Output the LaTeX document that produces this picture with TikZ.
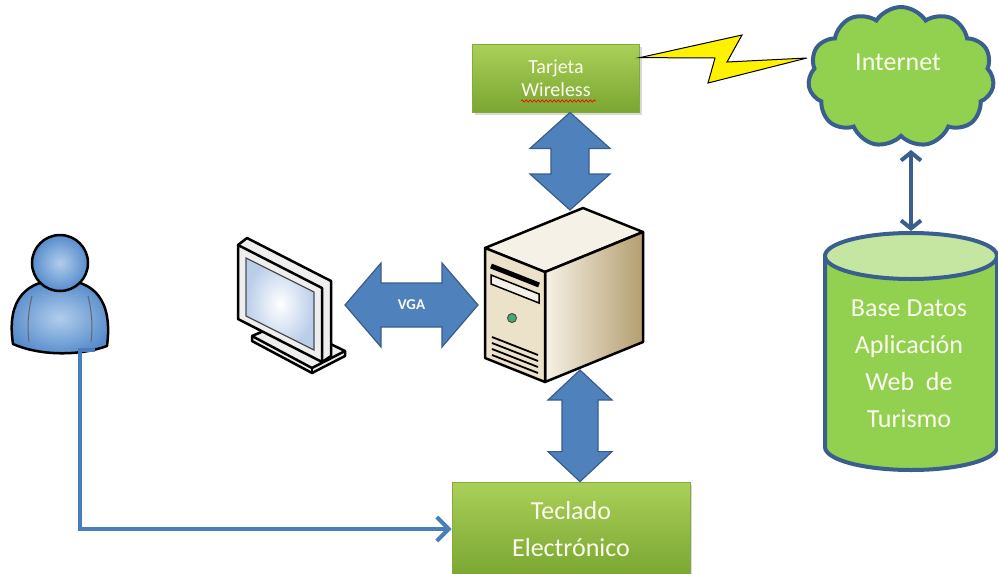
\documentclass[tikz,border=0pt]{standalone}
\usepackage{fontspec}
\setmainfont{Carlito}
\usetikzlibrary{shapes,shapes.symbols,arrows.meta,positioning,calc,shadows,decorations.pathmorphing}

\definecolor{boxtop}{RGB}{170,208,88}
\definecolor{boxbottom}{RGB}{122,166,50}
\definecolor{boxedge}{RGB}{130,170,60}
\definecolor{blockfill}{RGB}{79,129,189}
\definecolor{blockedge}{RGB}{56,93,138}
\definecolor{netgreen}{RGB}{146,208,80}
\definecolor{dbtop}{RGB}{196,230,160}
\definecolor{netedge}{RGB}{58,95,143}
\definecolor{userblue}{RGB}{74,126,187}
\definecolor{userin}{RGB}{178,205,236}
\definecolor{userout}{RGB}{86,140,204}
\definecolor{towerfront}{RGB}{236,226,202}
\definecolor{towertop}{RGB}{246,241,230}
\definecolor{towerside}{RGB}{180,158,112}
\definecolor{ledgreen}{RGB}{70,170,110}
\definecolor{monlight}{RGB}{238,238,238}
\definecolor{screenblue}{RGB}{186,206,234}
\definecolor{cream}{RGB}{252,252,238}

\tikzset{
  greenbox/.style={rectangle, draw=boxedge, line width=0.8pt, top color=boxtop, bottom color=boxbottom,
    text=cream, align=center, inner sep=2pt, drop shadow={opacity=0.3, shadow xshift=2pt, shadow yshift=-3pt}},
  blockarrow/.style={fill=blockfill, draw=blockedge, line width=1.2pt, line join=miter},
  netlink/.style={netedge, line width=4pt, {Straight Barb[length=8pt,width=20pt]}-{Straight Barb[length=8pt,width=20pt]}},
  userlink/.style={userblue, line width=4pt, -{Straight Barb[length=12pt,width=24pt]}},
  outline/.style={draw=black, line width=2.5pt, line join=round},
  whitetext/.style={text=cream, align=center}
}

\begin{document}
\begin{tikzpicture}[x=1pt, y=-1pt]
\useasboundingbox (0,0) rectangle (998,573);

% Boxes
\node[greenbox, font=\fontsize{20}{23}\selectfont, minimum width=167pt, minimum height=68pt] (tarjeta) at (556,78) {Tarjeta\\Wireless};
\draw[red, line width=0.7pt, decorate, decoration={snake, amplitude=1.2pt, segment length=4pt}]
  ($(tarjeta.center)+(-35,23)$) -- ++(75,0);
\node[greenbox, font=\fontsize{26}{37}\selectfont, minimum width=238pt, minimum height=94pt] (teclado) at (571,529) {Teclado\\Electrónico};

% Internet cloud
\node[cloud, cloud puffs=11, cloud puff arc=115, aspect=1.3, draw=netedge, line width=4pt, fill=netgreen,
  minimum width=186pt, minimum height=140pt] (internet) at (901,77) {};
\node[whitetext, font=\fontsize{26}{30}\selectfont] (netlabel) at (898,62) {Internet};

% Database
\coordinate (db-top) at (911,231);
\coordinate (net-foot) at (911,150);
\draw[draw=netedge, line width=4pt, fill=netgreen] (825,256) -- (825,447)
  arc[start angle=180, end angle=0, x radius=86, y radius=23] -- (997,256) -- cycle;
\draw[draw=netedge, line width=4pt, fill=dbtop] (911,256) ellipse[x radius=86, y radius=23];
\node[whitetext, font=\fontsize{26}{37}\selectfont] (db) at (909,364) {Base Datos\\Aplicación\\Web\ \ de\\Turismo};
\draw[netlink] (net-foot) -- (db-top);

% Lightning
\coordinate (bolt-a) at ($(tarjeta.north east)+(0,14)$);
\coordinate (bolt-b) at (807,58);
\draw[fill=yellow, draw=black, line width=1pt, line join=miter]
  (bolt-a) -- (742,35) -- (727,62) -- (bolt-b) -- (708,83) -- (715,58) -- cycle;

% User
\draw[outline, inner color=userin, outer color=userout]
  (13,344) .. controls (6,298) and (28,280) .. (60,280) .. controls (94,280) and (113,300) .. (107,346)
  .. controls (80,356) and (40,356) .. cycle;
\draw[black!60, line width=1pt] (32,296) .. controls (28,312) and (27,328) .. (29,342);
\draw[black!60, line width=1pt] (88,296) .. controls (92,312) and (93,328) .. (91,342);
\draw[outline, inner color=userin, outer color=userout] (60,263) circle (28);
\coordinate (user-foot) at (95,350);
\draw[userlink] (user-foot) -- ++(-15,0) |- (teclado.west);

% Monitor
\draw[outline, fill=monlight] (285,322) -- (345,351) -- (345,356) -- (312,373) -- (252,341) -- (252,336) -- cycle;
\draw[outline] (252,336) -- (312,368) -- (345,351);
\draw[outline] (312,368) -- (312,373);
\draw[outline, fill=monlight] (238,245) -- (247,238) -- (331,281) -- (331,356) -- (322,362) -- cycle;
\draw[outline, fill=monlight] (238,245) -- (322,288) -- (322,362) -- (238,319) -- cycle;
\draw[black!70, line width=1.2pt, inner color=white, outer color=screenblue]
  (246,258) -- (314,292) -- (314,350) -- (246,316) -- cycle;
\coordinate (vga-l) at (345,305);

% Tower
\draw[outline, fill=towertop] (485,248) -- (583,208) -- (643,232) -- (545,272) -- cycle;
\draw[outline, left color=towertop, right color=towerside] (545,272) -- (643,232) -- (643,342) -- (545,382) -- cycle;
\draw[outline, fill=towerfront] (485,248) -- (545,272) -- (545,382) -- (485,358) -- cycle;
\draw[line width=5pt] (491,266) -- (539,285);
\draw[fill=towertop, line width=1.5pt] (491,275) -- (539,294) -- (539,303) -- (491,284) -- cycle;
\draw[fill=ledgreen, draw=black!70, line width=1pt] (512,318) circle (4.5);
\foreach \k in {0,...,3}
  \draw[line width=1.8pt] (492,{337+6*\k}) -- (538,{355+6*\k});
\coordinate (vga-r) at (478,305);
\coordinate (pc-top) at (570,210);
\coordinate (pc-bottom) at (580,370);

% Block arrows
\draw[blockarrow] (tarjeta.south -| pc-top) -- ++(40,36) -- ++(-21,0) -- ($(pc-top)+(19,-36)$) -- ++(21,0)
  -- (pc-top) -- ++(-40,-36) -- ++(21,0) -- ($(tarjeta.south -| pc-top)+(-19,36)$) -- ++(-21,0) -- cycle;
\draw[blockarrow] (pc-bottom) -- ++(32,30) -- ++(-14,0) -- ($(teclado.north -| pc-bottom)+(18,-30)$) -- ++(14,0)
  -- (teclado.north -| pc-bottom) -- ++(-32,-30) -- ++(14,0) -- ($(pc-bottom)+(-18,30)$) -- ++(-14,0) -- cycle;
\draw[blockarrow] (vga-l) -- ++(36,-42) -- ++(0,20) -- ($(vga-r)+(-36,-22)$) -- ++(0,-20)
  -- (vga-r) -- ++(-36,42) -- ++(0,-20) -- ($(vga-l)+(36,22)$) -- ++(0,20) -- cycle;
\node[whitetext, font=\bfseries\fontsize{15}{17}\selectfont] (vga) at ($(vga-l)!0.5!(vga-r)$) {VGA};

\end{tikzpicture}
\end{document}
